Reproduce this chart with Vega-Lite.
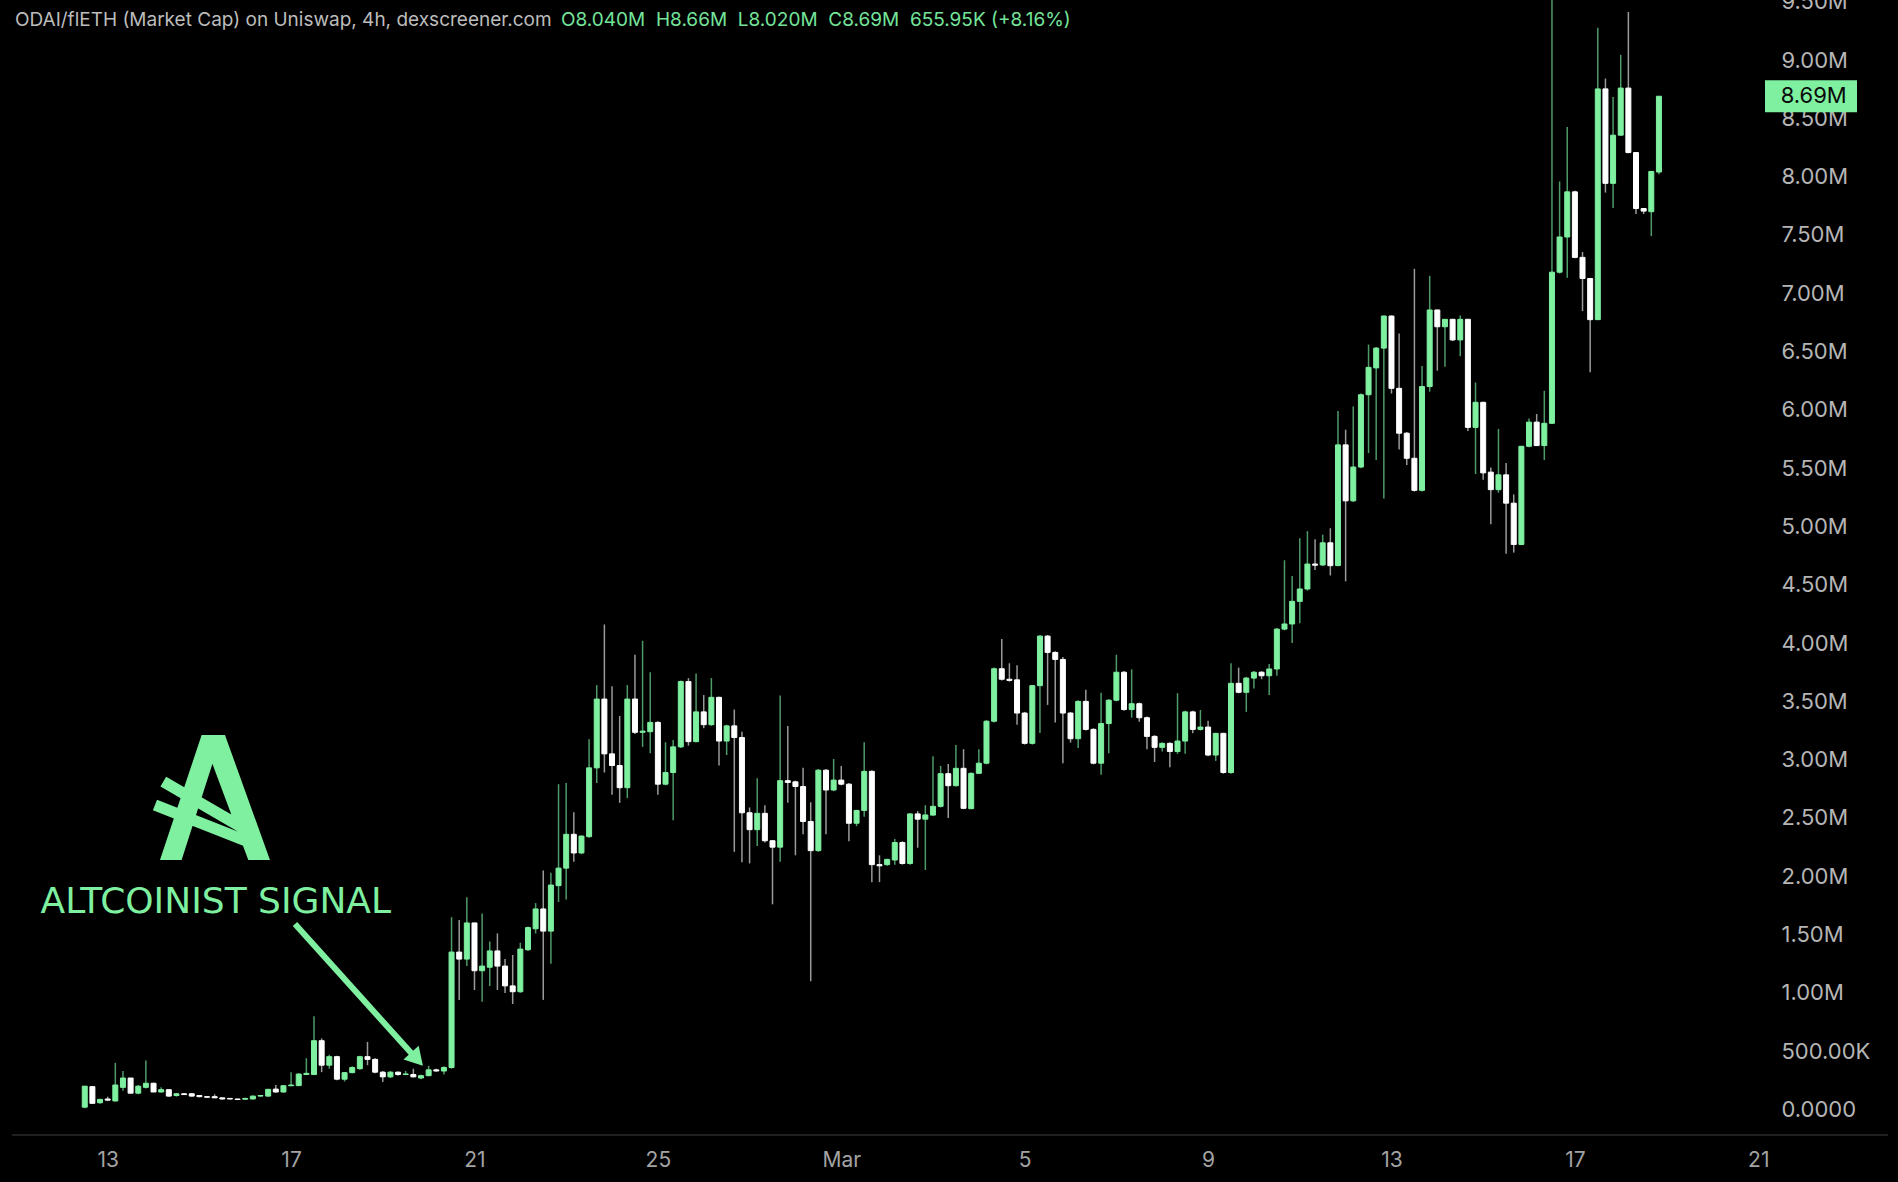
{
  "$schema": "https://vega.github.io/schema/vega-lite/v6.json",
  "width": 1767,
  "height": 1135,
  "autosize": {"type": "none"},
  "padding": {"left": 0, "top": 0, "right": 131, "bottom": 47},
  "background": "#000000",
  "config": {"view": {"stroke": null}, "font": "Inter", "scale": {"continuousPadding": 0}},
  "datasets": {
    "candles": [
      {"t":"2025-02-12T12:00","o":0.02,"h":0.2,"l":0.01,"c":0.2},
      {"t":"2025-02-12T16:00","o":0.196,"h":0.2,"l":0.05,"c":0.053},
      {"t":"2025-02-12T20:00","o":0.058,"h":0.09,"l":0.05,"c":0.087},
      {"t":"2025-02-13T00:00","o":0.09,"h":0.11,"l":0.075,"c":0.08},
      {"t":"2025-02-13T04:00","o":0.073,"h":0.4,"l":0.07,"c":0.21},
      {"t":"2025-02-13T08:00","o":0.19,"h":0.33,"l":0.16,"c":0.27},
      {"t":"2025-02-13T12:00","o":0.27,"h":0.27,"l":0.14,"c":0.14},
      {"t":"2025-02-13T16:00","o":0.14,"h":0.21,"l":0.13,"c":0.2},
      {"t":"2025-02-13T20:00","o":0.19,"h":0.42,"l":0.18,"c":0.225},
      {"t":"2025-02-14T00:00","o":0.225,"h":0.23,"l":0.15,"c":0.15},
      {"t":"2025-02-14T04:00","o":0.15,"h":0.19,"l":0.145,"c":0.17},
      {"t":"2025-02-14T08:00","o":0.17,"h":0.17,"l":0.11,"c":0.115},
      {"t":"2025-02-14T12:00","o":0.12,"h":0.14,"l":0.11,"c":0.135},
      {"t":"2025-02-14T16:00","o":0.135,"h":0.14,"l":0.125,"c":0.128},
      {"t":"2025-02-14T20:00","o":0.135,"h":0.14,"l":0.11,"c":0.115},
      {"t":"2025-02-15T00:00","o":0.12,"h":0.12,"l":0.105,"c":0.11},
      {"t":"2025-02-15T04:00","o":0.11,"h":0.115,"l":0.1,"c":0.105},
      {"t":"2025-02-15T08:00","o":0.11,"h":0.13,"l":0.1,"c":0.1},
      {"t":"2025-02-15T12:00","o":0.1,"h":0.1,"l":0.085,"c":0.09},
      {"t":"2025-02-15T16:00","o":0.095,"h":0.095,"l":0.088,"c":0.09},
      {"t":"2025-02-15T20:00","o":0.09,"h":0.092,"l":0.085,"c":0.086},
      {"t":"2025-02-16T00:00","o":0.088,"h":0.1,"l":0.086,"c":0.095},
      {"t":"2025-02-16T04:00","o":0.09,"h":0.12,"l":0.088,"c":0.115},
      {"t":"2025-02-16T08:00","o":0.115,"h":0.125,"l":0.11,"c":0.12},
      {"t":"2025-02-16T12:00","o":0.115,"h":0.175,"l":0.11,"c":0.173},
      {"t":"2025-02-16T16:00","o":0.175,"h":0.21,"l":0.145,"c":0.15},
      {"t":"2025-02-16T20:00","o":0.15,"h":0.21,"l":0.145,"c":0.204},
      {"t":"2025-02-17T00:00","o":0.204,"h":0.32,"l":0.2,"c":0.21},
      {"t":"2025-02-17T04:00","o":0.205,"h":0.31,"l":0.2,"c":0.304},
      {"t":"2025-02-17T08:00","o":0.3,"h":0.44,"l":0.295,"c":0.31},
      {"t":"2025-02-17T12:00","o":0.3,"h":0.8,"l":0.295,"c":0.59},
      {"t":"2025-02-17T16:00","o":0.59,"h":0.61,"l":0.32,"c":0.38},
      {"t":"2025-02-17T20:00","o":0.38,"h":0.47,"l":0.35,"c":0.453},
      {"t":"2025-02-18T00:00","o":0.453,"h":0.46,"l":0.25,"c":0.26},
      {"t":"2025-02-18T04:00","o":0.26,"h":0.32,"l":0.24,"c":0.316},
      {"t":"2025-02-18T08:00","o":0.316,"h":0.37,"l":0.31,"c":0.36},
      {"t":"2025-02-18T12:00","o":0.35,"h":0.46,"l":0.34,"c":0.453},
      {"t":"2025-02-18T16:00","o":0.453,"h":0.58,"l":0.38,"c":0.43},
      {"t":"2025-02-18T20:00","o":0.43,"h":0.44,"l":0.31,"c":0.32},
      {"t":"2025-02-19T00:00","o":0.32,"h":0.33,"l":0.235,"c":0.28},
      {"t":"2025-02-19T04:00","o":0.28,"h":0.33,"l":0.27,"c":0.32},
      {"t":"2025-02-19T08:00","o":0.32,"h":0.325,"l":0.29,"c":0.3},
      {"t":"2025-02-19T12:00","o":0.3,"h":0.33,"l":0.295,"c":0.305},
      {"t":"2025-02-19T16:00","o":0.3,"h":0.35,"l":0.275,"c":0.28},
      {"t":"2025-02-19T20:00","o":0.27,"h":0.3,"l":0.26,"c":0.29},
      {"t":"2025-02-20T00:00","o":0.29,"h":0.375,"l":0.285,"c":0.34},
      {"t":"2025-02-20T04:00","o":0.34,"h":0.35,"l":0.325,"c":0.33},
      {"t":"2025-02-20T08:00","o":0.33,"h":0.37,"l":0.3,"c":0.36},
      {"t":"2025-02-20T12:00","o":0.36,"h":1.65,"l":0.35,"c":1.35},
      {"t":"2025-02-20T16:00","o":1.35,"h":1.625,"l":0.94,"c":1.29},
      {"t":"2025-02-20T20:00","o":1.29,"h":1.82,"l":1.23,"c":1.6},
      {"t":"2025-02-21T00:00","o":1.6,"h":1.6,"l":1.025,"c":1.19},
      {"t":"2025-02-21T04:00","o":1.19,"h":1.68,"l":0.925,"c":1.23},
      {"t":"2025-02-21T08:00","o":1.22,"h":1.44,"l":1.06,"c":1.36},
      {"t":"2025-02-21T12:00","o":1.36,"h":1.51,"l":1.025,"c":1.23},
      {"t":"2025-02-21T16:00","o":1.23,"h":1.29,"l":1.0,"c":1.06},
      {"t":"2025-02-21T20:00","o":1.06,"h":1.325,"l":0.905,"c":1.01},
      {"t":"2025-02-22T00:00","o":1.01,"h":1.43,"l":1.0,"c":1.376},
      {"t":"2025-02-22T04:00","o":1.37,"h":1.57,"l":1.36,"c":1.56},
      {"t":"2025-02-22T08:00","o":1.55,"h":1.77,"l":1.51,"c":1.72},
      {"t":"2025-02-22T12:00","o":1.72,"h":2.05,"l":0.94,"c":1.53},
      {"t":"2025-02-22T16:00","o":1.53,"h":2.03,"l":1.25,"c":1.925},
      {"t":"2025-02-22T20:00","o":1.92,"h":2.79,"l":1.78,"c":2.07},
      {"t":"2025-02-23T00:00","o":2.07,"h":2.8,"l":1.8,"c":2.36},
      {"t":"2025-02-23T04:00","o":2.36,"h":2.55,"l":2.125,"c":2.2},
      {"t":"2025-02-23T08:00","o":2.2,"h":2.35,"l":2.19,"c":2.345},
      {"t":"2025-02-23T12:00","o":2.34,"h":3.175,"l":2.33,"c":2.93},
      {"t":"2025-02-23T16:00","o":2.93,"h":3.64,"l":2.8,"c":3.52},
      {"t":"2025-02-23T20:00","o":3.52,"h":4.16,"l":2.89,"c":3.05},
      {"t":"2025-02-24T00:00","o":3.05,"h":3.63,"l":2.7,"c":2.95},
      {"t":"2025-02-24T04:00","o":2.95,"h":3.375,"l":2.63,"c":2.76},
      {"t":"2025-02-24T08:00","o":2.76,"h":3.64,"l":2.67,"c":3.52},
      {"t":"2025-02-24T12:00","o":3.52,"h":3.9,"l":3.22,"c":3.235},
      {"t":"2025-02-24T16:00","o":3.235,"h":4.02,"l":3.11,"c":3.245},
      {"t":"2025-02-24T20:00","o":3.24,"h":3.75,"l":3.055,"c":3.32},
      {"t":"2025-02-25T00:00","o":3.32,"h":3.33,"l":2.7,"c":2.79},
      {"t":"2025-02-25T04:00","o":2.79,"h":3.15,"l":2.78,"c":2.89},
      {"t":"2025-02-25T08:00","o":2.89,"h":3.17,"l":2.48,"c":3.11},
      {"t":"2025-02-25T12:00","o":3.11,"h":3.68,"l":3.1,"c":3.67},
      {"t":"2025-02-25T16:00","o":3.67,"h":3.7,"l":3.12,"c":3.155},
      {"t":"2025-02-25T20:00","o":3.155,"h":3.74,"l":3.15,"c":3.41},
      {"t":"2025-02-26T00:00","o":3.41,"h":3.555,"l":3.27,"c":3.3},
      {"t":"2025-02-26T04:00","o":3.3,"h":3.7,"l":3.29,"c":3.535},
      {"t":"2025-02-26T08:00","o":3.535,"h":3.54,"l":2.95,"c":3.16},
      {"t":"2025-02-26T12:00","o":3.16,"h":3.3,"l":3.04,"c":3.29},
      {"t":"2025-02-26T16:00","o":3.29,"h":3.43,"l":2.21,"c":3.19},
      {"t":"2025-02-26T20:00","o":3.19,"h":3.24,"l":2.12,"c":2.545},
      {"t":"2025-02-27T00:00","o":2.545,"h":2.59,"l":2.11,"c":2.4},
      {"t":"2025-02-27T04:00","o":2.4,"h":2.84,"l":2.26,"c":2.54},
      {"t":"2025-02-27T08:00","o":2.54,"h":2.61,"l":2.29,"c":2.305},
      {"t":"2025-02-27T12:00","o":2.305,"h":2.31,"l":1.76,"c":2.25},
      {"t":"2025-02-27T16:00","o":2.25,"h":3.55,"l":2.125,"c":2.82},
      {"t":"2025-02-27T20:00","o":2.82,"h":3.29,"l":2.63,"c":2.805},
      {"t":"2025-02-28T00:00","o":2.81,"h":2.82,"l":2.18,"c":2.77},
      {"t":"2025-02-28T04:00","o":2.77,"h":2.93,"l":2.36,"c":2.47},
      {"t":"2025-02-28T08:00","o":2.47,"h":2.635,"l":1.1,"c":2.22},
      {"t":"2025-02-28T12:00","o":2.22,"h":2.92,"l":2.21,"c":2.91},
      {"t":"2025-02-28T16:00","o":2.91,"h":2.92,"l":2.36,"c":2.74},
      {"t":"2025-02-28T20:00","o":2.74,"h":3.006,"l":2.73,"c":2.825},
      {"t":"2025-03-01T00:00","o":2.825,"h":2.946,"l":2.78,"c":2.79},
      {"t":"2025-03-01T04:00","o":2.79,"h":2.8,"l":2.3,"c":2.455},
      {"t":"2025-03-01T08:00","o":2.455,"h":2.57,"l":2.43,"c":2.565},
      {"t":"2025-03-01T12:00","o":2.565,"h":3.15,"l":2.51,"c":2.9},
      {"t":"2025-03-01T16:00","o":2.9,"h":2.91,"l":1.95,"c":2.1},
      {"t":"2025-03-01T20:00","o":2.1,"h":2.18,"l":1.95,"c":2.09},
      {"t":"2025-03-02T00:00","o":2.1,"h":2.15,"l":2.09,"c":2.145},
      {"t":"2025-03-02T04:00","o":2.14,"h":2.32,"l":2.1,"c":2.29},
      {"t":"2025-03-02T08:00","o":2.29,"h":2.3,"l":2.1,"c":2.11},
      {"t":"2025-03-02T12:00","o":2.11,"h":2.54,"l":2.1,"c":2.535},
      {"t":"2025-03-02T16:00","o":2.535,"h":2.56,"l":2.245,"c":2.49},
      {"t":"2025-03-02T20:00","o":2.49,"h":2.61,"l":2.054,"c":2.526},
      {"t":"2025-03-03T00:00","o":2.525,"h":3.03,"l":2.52,"c":2.6},
      {"t":"2025-03-03T04:00","o":2.6,"h":2.946,"l":2.59,"c":2.88},
      {"t":"2025-03-03T08:00","o":2.88,"h":2.963,"l":2.5,"c":2.777},
      {"t":"2025-03-03T12:00","o":2.777,"h":3.126,"l":2.77,"c":2.926},
      {"t":"2025-03-03T16:00","o":2.926,"h":3.09,"l":2.576,"c":2.583},
      {"t":"2025-03-03T20:00","o":2.58,"h":2.89,"l":2.575,"c":2.883},
      {"t":"2025-03-04T00:00","o":2.883,"h":3.09,"l":2.88,"c":2.97},
      {"t":"2025-03-04T04:00","o":2.97,"h":3.34,"l":2.96,"c":3.33},
      {"t":"2025-03-04T08:00","o":3.33,"h":3.79,"l":3.32,"c":3.78},
      {"t":"2025-03-04T12:00","o":3.78,"h":4.035,"l":3.68,"c":3.69},
      {"t":"2025-03-04T16:00","o":3.69,"h":3.827,"l":3.67,"c":3.68},
      {"t":"2025-03-04T20:00","o":3.685,"h":3.81,"l":3.3,"c":3.4},
      {"t":"2025-03-05T00:00","o":3.4,"h":3.41,"l":3.13,"c":3.14},
      {"t":"2025-03-05T04:00","o":3.14,"h":3.64,"l":3.13,"c":3.635},
      {"t":"2025-03-05T08:00","o":3.635,"h":4.07,"l":3.23,"c":4.06},
      {"t":"2025-03-05T12:00","o":4.06,"h":4.07,"l":3.47,"c":3.92},
      {"t":"2025-03-05T16:00","o":3.92,"h":3.93,"l":3.32,"c":3.86},
      {"t":"2025-03-05T20:00","o":3.86,"h":3.88,"l":2.97,"c":3.4},
      {"t":"2025-03-06T00:00","o":3.4,"h":3.41,"l":3.146,"c":3.18},
      {"t":"2025-03-06T04:00","o":3.18,"h":3.51,"l":3.1,"c":3.5},
      {"t":"2025-03-06T08:00","o":3.5,"h":3.6,"l":3.25,"c":3.26},
      {"t":"2025-03-06T12:00","o":3.26,"h":3.27,"l":2.96,"c":2.97},
      {"t":"2025-03-06T16:00","o":2.97,"h":3.575,"l":2.87,"c":3.31},
      {"t":"2025-03-06T20:00","o":3.31,"h":3.52,"l":3.055,"c":3.51},
      {"t":"2025-03-07T00:00","o":3.51,"h":3.9,"l":3.5,"c":3.75},
      {"t":"2025-03-07T04:00","o":3.75,"h":3.76,"l":3.42,"c":3.43},
      {"t":"2025-03-07T08:00","o":3.43,"h":3.775,"l":3.36,"c":3.48},
      {"t":"2025-03-07T12:00","o":3.48,"h":3.49,"l":3.325,"c":3.36},
      {"t":"2025-03-07T16:00","o":3.36,"h":3.37,"l":3.09,"c":3.2},
      {"t":"2025-03-07T20:00","o":3.2,"h":3.21,"l":2.98,"c":3.106},
      {"t":"2025-03-08T00:00","o":3.106,"h":3.15,"l":3.07,"c":3.14},
      {"t":"2025-03-08T04:00","o":3.14,"h":3.15,"l":2.935,"c":3.07},
      {"t":"2025-03-08T08:00","o":3.07,"h":3.57,"l":3.05,"c":3.16},
      {"t":"2025-03-08T12:00","o":3.16,"h":3.42,"l":3.05,"c":3.41},
      {"t":"2025-03-08T16:00","o":3.41,"h":3.42,"l":3.226,"c":3.26},
      {"t":"2025-03-08T20:00","o":3.26,"h":3.426,"l":3.25,"c":3.28},
      {"t":"2025-03-09T00:00","o":3.28,"h":3.335,"l":3.03,"c":3.04},
      {"t":"2025-03-09T04:00","o":3.04,"h":3.23,"l":2.99,"c":3.226},
      {"t":"2025-03-09T08:00","o":3.226,"h":3.23,"l":2.88,"c":2.89},
      {"t":"2025-03-09T12:00","o":2.89,"h":3.827,"l":2.88,"c":3.655},
      {"t":"2025-03-09T16:00","o":3.655,"h":3.79,"l":3.57,"c":3.578},
      {"t":"2025-03-09T20:00","o":3.578,"h":3.71,"l":3.41,"c":3.7},
      {"t":"2025-03-10T00:00","o":3.7,"h":3.76,"l":3.61,"c":3.75},
      {"t":"2025-03-10T04:00","o":3.75,"h":3.76,"l":3.69,"c":3.72},
      {"t":"2025-03-10T08:00","o":3.72,"h":3.82,"l":3.555,"c":3.778},
      {"t":"2025-03-10T12:00","o":3.778,"h":4.13,"l":3.72,"c":4.12},
      {"t":"2025-03-10T16:00","o":4.12,"h":4.71,"l":4.11,"c":4.164},
      {"t":"2025-03-10T20:00","o":4.164,"h":4.575,"l":4.0,"c":4.358},
      {"t":"2025-03-11T00:00","o":4.358,"h":4.9,"l":4.17,"c":4.464},
      {"t":"2025-03-11T04:00","o":4.464,"h":4.96,"l":4.45,"c":4.678},
      {"t":"2025-03-11T08:00","o":4.678,"h":4.89,"l":4.627,"c":4.668},
      {"t":"2025-03-11T12:00","o":4.67,"h":4.93,"l":4.66,"c":4.86},
      {"t":"2025-03-11T16:00","o":4.86,"h":4.985,"l":4.58,"c":4.664},
      {"t":"2025-03-11T20:00","o":4.665,"h":5.99,"l":4.66,"c":5.7},
      {"t":"2025-03-12T00:00","o":5.7,"h":5.83,"l":4.53,"c":5.22},
      {"t":"2025-03-12T04:00","o":5.22,"h":6.03,"l":5.21,"c":5.51},
      {"t":"2025-03-12T08:00","o":5.51,"h":6.14,"l":5.5,"c":6.13},
      {"t":"2025-03-12T12:00","o":6.13,"h":6.56,"l":5.63,"c":6.365},
      {"t":"2025-03-12T16:00","o":6.36,"h":6.54,"l":5.57,"c":6.53},
      {"t":"2025-03-12T20:00","o":6.53,"h":6.81,"l":5.24,"c":6.805},
      {"t":"2025-03-13T00:00","o":6.805,"h":6.81,"l":6.14,"c":6.185},
      {"t":"2025-03-13T04:00","o":6.185,"h":6.656,"l":5.66,"c":5.8},
      {"t":"2025-03-13T08:00","o":5.8,"h":5.81,"l":5.527,"c":5.585},
      {"t":"2025-03-13T12:00","o":5.585,"h":7.21,"l":5.3,"c":5.31},
      {"t":"2025-03-13T16:00","o":5.31,"h":6.376,"l":5.3,"c":6.2},
      {"t":"2025-03-13T20:00","o":6.2,"h":7.15,"l":6.156,"c":6.857},
      {"t":"2025-03-14T00:00","o":6.857,"h":6.86,"l":6.336,"c":6.713},
      {"t":"2025-03-14T04:00","o":6.713,"h":6.78,"l":6.37,"c":6.777},
      {"t":"2025-03-14T08:00","o":6.777,"h":6.78,"l":6.59,"c":6.6},
      {"t":"2025-03-14T12:00","o":6.6,"h":6.81,"l":6.46,"c":6.777},
      {"t":"2025-03-14T16:00","o":6.777,"h":6.78,"l":5.82,"c":5.85},
      {"t":"2025-03-14T20:00","o":5.85,"h":6.235,"l":5.45,"c":6.065},
      {"t":"2025-03-15T00:00","o":6.065,"h":6.07,"l":5.4,"c":5.46},
      {"t":"2025-03-15T04:00","o":5.466,"h":5.507,"l":5.02,"c":5.316},
      {"t":"2025-03-15T08:00","o":5.316,"h":5.837,"l":5.29,"c":5.443},
      {"t":"2025-03-15T12:00","o":5.443,"h":5.545,"l":4.767,"c":5.2},
      {"t":"2025-03-15T16:00","o":5.2,"h":5.275,"l":4.776,"c":4.846},
      {"t":"2025-03-15T20:00","o":4.846,"h":5.69,"l":4.84,"c":5.688},
      {"t":"2025-03-16T00:00","o":5.688,"h":5.926,"l":5.68,"c":5.895},
      {"t":"2025-03-16T04:00","o":5.895,"h":5.965,"l":5.69,"c":5.694},
      {"t":"2025-03-16T08:00","o":5.694,"h":6.164,"l":5.57,"c":5.885},
      {"t":"2025-03-16T12:00","o":5.885,"h":9.9,"l":5.88,"c":7.181},
      {"t":"2025-03-16T16:00","o":7.181,"h":7.959,"l":7.17,"c":7.483},
      {"t":"2025-03-16T20:00","o":7.483,"h":8.426,"l":7.133,"c":7.87},
      {"t":"2025-03-17T00:00","o":7.87,"h":7.88,"l":7.3,"c":7.308},
      {"t":"2025-03-17T04:00","o":7.308,"h":7.355,"l":6.847,"c":7.127},
      {"t":"2025-03-17T08:00","o":7.127,"h":7.13,"l":6.323,"c":6.774},
      {"t":"2025-03-17T12:00","o":6.774,"h":9.277,"l":6.77,"c":8.753},
      {"t":"2025-03-17T16:00","o":8.753,"h":8.842,"l":7.864,"c":7.943},
      {"t":"2025-03-17T20:00","o":7.943,"h":8.683,"l":7.731,"c":8.356},
      {"t":"2025-03-18T00:00","o":8.356,"h":9.045,"l":8.35,"c":8.76},
      {"t":"2025-03-18T04:00","o":8.76,"h":9.413,"l":8.2,"c":8.207},
      {"t":"2025-03-18T08:00","o":8.207,"h":8.21,"l":7.68,"c":7.727},
      {"t":"2025-03-18T12:00","o":7.727,"h":7.73,"l":7.68,"c":7.705},
      {"t":"2025-03-18T16:00","o":7.7,"h":8.05,"l":7.49,"c":8.045},
      {"t":"2025-03-18T20:00","o":8.04,"h":8.69,"l":8.02,"c":8.69}
    ]
  },
  "layer": [
    {
      "data": {"name": "candles"},
      "mark": {"type": "rule", "strokeWidth": 1.5},
      "encoding": {
        "x": {
          "field": "t", "type": "temporal", "title": null,
          "scale": {"type": "time", "nice": false, "padding": 0,
            "domain": [{"year": 2025, "month": 2, "date": 10, "hours": 15, "minutes": 38}, {"year": 2025, "month": 3, "date": 21, "hours": 4, "minutes": 34}]},
          "axis": {
            "values": [
              {"year": 2025, "month": 2, "date": 13}, {"year": 2025, "month": 2, "date": 17},
              {"year": 2025, "month": 2, "date": 21}, {"year": 2025, "month": 2, "date": 25},
              {"year": 2025, "month": 3, "date": 1}, {"year": 2025, "month": 3, "date": 5},
              {"year": 2025, "month": 3, "date": 9}, {"year": 2025, "month": 3, "date": 13},
              {"year": 2025, "month": 3, "date": 17}, {"year": 2025, "month": 3, "date": 21}
            ],
            "labelExpr": "timeFormat(datum.value, '%d') == '01' ? 'Mar' : timeFormat(datum.value, '%-d')",
            "domain": false, "ticks": false, "grid": false,
            "labelPadding": 25, "labelBaseline": "middle", "labelFontSize": 21,
            "labelColor": "#a3a3a3", "labelFont": "Inter",
            "labelOverlap": false, "labelFlush": false, "labelBound": false
          }
        },
        "y": {
          "field": "l", "type": "quantitative", "title": null,
          "scale": {"domain": [-0.2187, 9.5154], "nice": false, "zero": false, "padding": 0},
          "axis": {
            "orient": "right",
            "values": [0, 0.5, 1, 1.5, 2, 2.5, 3, 3.5, 4, 4.5, 5, 5.5, 6, 6.5, 7, 7.5, 8, 8.5, 9, 9.5],
            "labelExpr": "datum.value >= 1 ? format(datum.value, '.2f') + 'M' : (datum.value > 0 ? format(datum.value * 1000, '.2f') + 'K' : '0.0000')",
            "domain": false, "ticks": false, "grid": false,
            "labelAlign": "left", "labelPadding": 14, "labelBaseline": "middle",
            "labelFontSize": 22, "labelColor": "#b5b5b5", "labelFont": "Inter",
            "labelOverlap": false, "labelFlush": false, "labelBound": false
          }
        },
        "y2": {"field": "h"},
        "stroke": {"condition": {"test": "datum.c >= datum.o", "value": "#4e9a68"}, "value": "#9a9a9a"}
      }
    },
    {
      "data": {"name": "candles"},
      "mark": {"type": "bar", "width": 5, "strokeWidth": 1},
      "encoding": {
        "x": {"field": "t", "type": "temporal", "title": null},
        "y": {"field": "o", "type": "quantitative", "title": null},
        "y2": {"field": "c"},
        "fill": {"condition": {"test": "datum.c >= datum.o", "value": "#7ef0a0"}, "value": "#ffffff"},
        "stroke": {"condition": {"test": "datum.c >= datum.o", "value": "#7ef0a0"}, "value": "#ffffff"}
      }
    },
    {
      "data": {"values": [{"part": "axis line"}]},
      "mark": {"type": "rule", "stroke": "#2b2b2b", "strokeWidth": 1.5},
      "encoding": {
        "x": {"datum": {"year": 2025, "month": 2, "date": 10, "hours": 21, "minutes": 54}, "type": "temporal", "title": null},
        "x2": {"datum": {"year": 2025, "month": 3, "date": 23, "hours": 19, "minutes": 56}},
        "y": {"datum": -0.2187, "type": "quantitative", "title": null}
      }
    },
    {
      "data": {"values": [{"txt": "ODAI/flETH (Market Cap) on Uniswap, 4h, dexscreener.com"}]},
      "mark": {"type": "text", "align": "left", "baseline": "middle", "fontSize": 19, "font": "Inter", "color": "#bcbcbc"},
      "encoding": {
        "x": {"datum": {"year": 2025, "month": 2, "date": 10, "hours": 23, "minutes": 28}, "type": "temporal", "title": null},
        "y": {"datum": 9.344, "type": "quantitative", "title": null},
        "text": {"field": "txt"}
      }
    },
    {
      "data": {"values": [{"txt": "O8.040M\u00a0\u00a0H8.66M\u00a0\u00a0L8.020M\u00a0\u00a0C8.69M\u00a0\u00a0655.95K (+8.16%)"}]},
      "mark": {"type": "text", "align": "left", "baseline": "middle", "fontSize": 19, "font": "Inter", "color": "#74e49a"},
      "encoding": {
        "x": {"datum": {"year": 2025, "month": 2, "date": 22, "hours": 21, "minutes": 17}, "type": "temporal", "title": null},
        "y": {"datum": 9.344, "type": "quantitative", "title": null},
        "text": {"field": "txt"}
      }
    },
    {
      "data": {"values": [{"logo": "Altcoinist"}]},
      "mark": {
        "type": "point", "filled": true, "color": "#7ef0a0", "opacity": 1, "strokeWidth": 0, "size": 16900,
        "shape": "M-0.1436,-0.9615L0.1641,-0.9615L-0.4513,0.9615L-0.7846,0.9615Z M-0.1436,-0.9615L0.2154,-0.9615L0.9077,0.9615L0.5744,0.9615Z M-0.6897,-0.319L0.5923,0.4246L0.5051,0.5754L-0.7769,-0.1682Z M-0.8297,0.0344L0.6062,0.6L0.5426,0.7605L-0.8933,0.1964Z"
      },
      "encoding": {
        "x": {"datum": {"year": 2025, "month": 2, "date": 15, "hours": 6, "minutes": 4}, "type": "temporal", "title": null},
        "y": {"datum": 2.676, "type": "quantitative", "title": null}
      }
    },
    {
      "data": {"values": [{"txt": "ALTCOINIST SIGNAL"}]},
      "mark": {"type": "text", "align": "center", "baseline": "middle", "fontSize": 36, "font": "DejaVu Sans", "color": "#7ef0a0"},
      "encoding": {
        "x": {"datum": {"year": 2025, "month": 2, "date": 15, "hours": 8, "minutes": 35}, "type": "temporal", "title": null},
        "y": {"datum": 1.782, "type": "quantitative", "title": null},
        "text": {"field": "txt"}
      }
    },
    {
      "data": {"values": [{"part": "arrow"}]},
      "mark": {"type": "rule", "strokeWidth": 6, "color": "#7ef0a0", "strokeCap": "butt"},
      "encoding": {
        "x": {"datum": {"year": 2025, "month": 2, "date": 17, "hours": 2, "minutes": 2}, "type": "temporal", "title": null},
        "x2": {"datum": {"year": 2025, "month": 2, "date": 19, "hours": 15, "minutes": 49}},
        "y": {"datum": 1.591, "type": "quantitative", "title": null},
        "y2": {"datum": 0.467}
      }
    },
    {
      "data": {"values": [{"part": "arrowhead"}]},
      "mark": {"type": "point", "shape": "triangle-up", "angle": 138, "size": 420, "filled": true, "color": "#7ef0a0", "opacity": 1},
      "encoding": {
        "x": {"datum": {"year": 2025, "month": 2, "date": 19, "hours": 17, "minutes": 54}, "type": "temporal", "title": null},
        "y": {"datum": 0.431, "type": "quantitative", "title": null}
      }
    },
    {
      "data": {"name": "candles"},
      "transform": [
        {"aggregate": [{"op": "argmax", "field": "t", "as": "last"}]},
        {"calculate": "datum.last.c", "as": "close"},
        {"calculate": "format(datum.close, '.2f') + 'M'", "as": "label"}
      ],
      "layer": [
        {
          "mark": {"type": "point", "shape": "M-1,-0.348L1,-0.348L1,0.348L-1,0.348Z", "size": 8464, "filled": true, "color": "#7ef0a0", "opacity": 1, "strokeWidth": 0},
          "encoding": {
            "x": {"datum": {"year": 2025, "month": 3, "date": 22, "hours": 3, "minutes": 36}, "type": "temporal", "title": null},
            "y": {"field": "close", "type": "quantitative", "title": null}
          }
        },
        {
          "mark": {"type": "text", "align": "left", "baseline": "middle", "fontSize": 22, "font": "Inter", "color": "#0a0a0a"},
          "encoding": {
            "x": {"datum": {"year": 2025, "month": 3, "date": 21, "hours": 11, "minutes": 44}, "type": "temporal", "title": null},
            "y": {"field": "close", "type": "quantitative", "title": null},
            "text": {"field": "label"}
          }
        }
      ]
    }
  ]
}
